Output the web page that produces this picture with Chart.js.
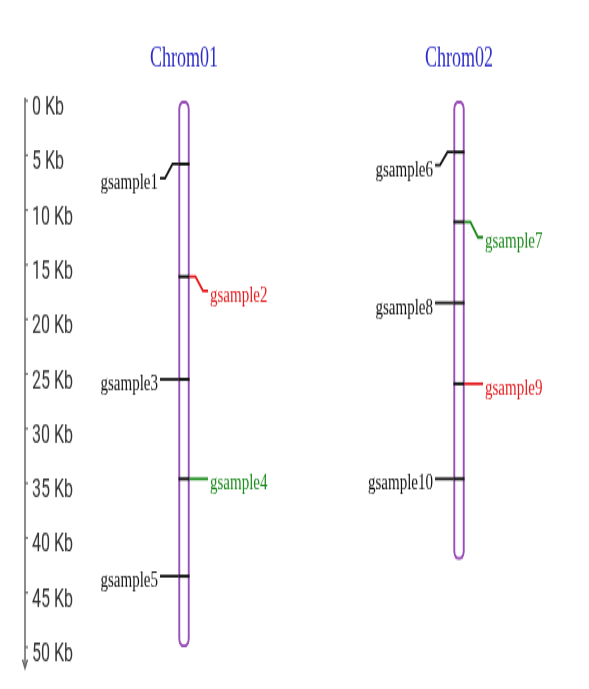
<!DOCTYPE html>
<html>
<head>
<meta charset="utf-8">
<script src="https://cdn.jsdelivr.net/npm/chart.js@4.4.1/dist/chart.umd.min.js"></script>
<style>
    html, body { margin: 0; padding: 0; background: #fff; overflow: hidden; }
    #wrap { width: 589px; height: 689px; }
    /* the source picture is stretched vertically, so the canvas is too */
    #chromChart { width: 589px !important; height: 689px !important; display: block; }
</style>
</head>
<body>
<div id="wrap"><canvas id="chromChart" width="589" height="445"></canvas></div>
<script>
// chromosomes
const chromNames = ['Chrom01', 'Chrom02'];
const chromIndex = [1, 2];
const chromLengths = [50, 42];

// markers (position in Kb)
const markerNames = ['gsample1', 'gsample2', 'gsample3', 'gsample4', 'gsample5',
                     'gsample6', 'gsample7', 'gsample8', 'gsample9', 'gsample10'];
const markerChrom = [0, 0, 0, 0, 0, 1, 1, 1, 1, 1];
const markerPos = [5.8, 16.1, 25.5, 34.6, 43.5, 4.7, 11.1, 18.5, 25.9, 34.6];
const markerSide = ['left', 'right', 'left', 'right', 'left', 'left', 'right', 'left', 'right', 'left'];
const markerLabelShift = [1.3, 1.3, 0, 0, 0, 1.2, 1.4, 0, 0, 0];
const markerColors = ['#111111', '#e5191c', '#111111', '#1a8a1a', '#111111',
                      '#111111', '#1a8a1a', '#111111', '#e5191c', '#111111'];

// axis
const yTicks = [0, 5, 10, 15, 20, 25, 30, 35, 40, 45, 50];
const yMax = 50;

const X_MIN = 0.4218, X_MAX = 2.4727;
const U = (X_MAX - X_MIN) / 564; // one pixel in x units

function markerDatasets() {
    const sets = [];
    markerNames.forEach((name, i) => {
        const cx = chromIndex[markerChrom[i]];
        const y = markerPos[i];
        const yl = y + markerLabelShift[i];
        const bent = markerLabelShift[i] !== 0;
        const s = markerSide[i] === 'left' ? -1 : 1;
        let pts;
        if (bent) {
            pts = [
                { x: cx + s * 5.5 * U, y: y },
                { x: cx + s * 11.5 * U, y: y },
                { x: cx + s * 19 * U, y: yl },
                { x: cx + s * 24 * U, y: yl }
            ];
        } else {
            pts = [
                { x: cx + s * 5.5 * U, y: y },
                { x: cx + s * 24 * U, y: y }
            ];
        }
        sets.push({
            type: 'line',
            label: name + '-link',
            data: pts,
            borderColor: markerColors[i],
            borderWidth: 1.8,
            pointRadius: 0,
            tension: 0,
            order: 0
        });
        sets.push({
            type: 'line',
            label: name,
            data: [{ x: cx - 5.5 * U, y: y }, { x: cx + 5.5 * U, y: y }],
            borderColor: '#111111',
            borderWidth: 2,
            pointRadius: 0,
            order: 0
        });
    });
    return sets;
}

const axisDecor = {
    id: 'axisDecor',
    afterDatasetsDraw(chart) {
        const ctx = chart.ctx;
        const ys = chart.scales.y;
        const xs = chart.scales.x;
        const area = chart.chartArea;
        const ax = area.left;
        ctx.save();

        // axis line with arrow
        ctx.strokeStyle = '#666';
        ctx.lineWidth = 1.5;
        ctx.beginPath();
        ctx.moveTo(ax, area.top - 2);
        ctx.lineTo(ax, area.bottom + 13);
        ctx.stroke();
        ctx.beginPath();
        ctx.moveTo(ax - 2.5, area.bottom + 8);
        ctx.lineTo(ax, area.bottom + 13.5);
        ctx.lineTo(ax + 2.5, area.bottom + 8);
        ctx.stroke();
        ctx.lineWidth = 1.2;
        yTicks.forEach(t => {
            const py = ys.getPixelForValue(t);
            ctx.beginPath();
            ctx.moveTo(ax, py);
            ctx.lineTo(ax + 3, py);
            ctx.stroke();
        });

        // chromosome titles
        ctx.fillStyle = '#2b2bc8';
        ctx.font = '18px "Liberation Serif", "Times New Roman", serif';
        ctx.textAlign = 'center';
        ctx.textBaseline = 'middle';
        chromNames.forEach((n, i) => {
            ctx.fillText(n, xs.getPixelForValue(chromIndex[i]), area.top - 27);
        });

        // marker labels
        ctx.font = '15px "Liberation Serif", "Times New Roman", serif';
        markerNames.forEach((n, i) => {
            const meta = chart.getDatasetMeta(1 + i * 2);
            const last = meta.data[meta.data.length - 1];
            const left = markerSide[i] === 'left';
            ctx.fillStyle = markerColors[i];
            ctx.textAlign = left ? 'right' : 'left';
            ctx.fillText(n, last.x + (left ? -2 : 2), last.y + 3);
        });
        ctx.restore();
    }
};

new Chart(document.getElementById('chromChart'), {
    data: {
        datasets: [
            {
                type: 'bar',
                label: 'chromosomes',
                data: chromIndex.map((c, i) => ({ x: c, y: [0, chromLengths[i]] })),
                backgroundColor: 'rgba(255,255,255,0)',
                borderColor: '#9a4fb8',
                borderWidth: 1.4,
                borderSkipped: false,
                borderRadius: 20,
                barThickness: 11,
                order: 1
            },
            ...markerDatasets()
        ]
    },
    options: {
        responsive: false,
        animation: false,
        devicePixelRatio: 1,
        layout: { padding: { left: 25, right: 0, top: 65, bottom: 27 } },
        plugins: { legend: { display: false }, tooltip: { enabled: false } },
        scales: {
            x: { type: 'linear', min: X_MIN, max: X_MAX, offset: false, display: false },
            y: {
                type: 'linear',
                reverse: true,
                min: 0,
                max: yMax,
                afterBuildTicks: (scale) => { scale.ticks = yTicks.map(v => ({ value: v })); },
                afterFit: (scale) => { scale.width = 0; },
                grid: { display: false },
                border: { display: false },
                ticks: {
                    mirror: true,
                    padding: 7,
                    labelOffset: 5,
                    color: '#333',
                    font: { family: 'Roboto, sans-serif', size: 16 },
                    callback: (v) => v + ' Kb'
                }
            }
        }
    },
    plugins: [axisDecor]
});
</script>
</body>
</html>
